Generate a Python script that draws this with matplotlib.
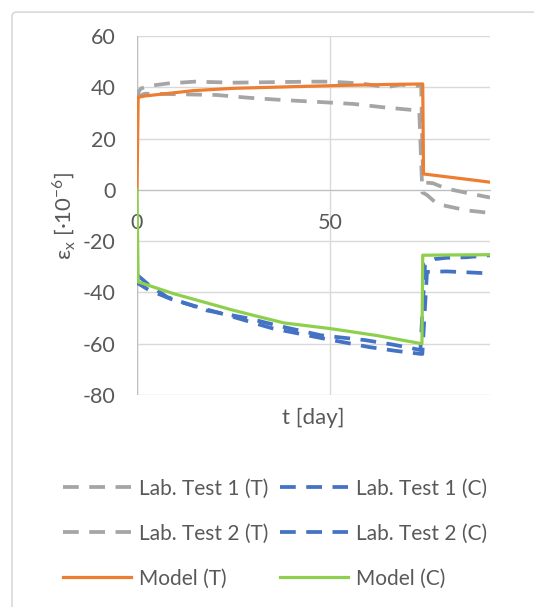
import numpy as np
import matplotlib.pyplot as plt
from matplotlib.patches import FancyBboxPatch

plt.rcParams['font.family'] = ['Lato', 'DejaVu Sans']
plt.rcParams['mathtext.fontset'] = 'custom'
plt.rcParams['mathtext.rm'] = 'Lato'
plt.rcParams['axes.unicode_minus'] = False

# lab tests, tension side
t_lab1_T = [0, 0.3, 1, 3, 8, 15, 25, 35, 45, 50, 58, 64.5, 68, 73.5, 74.0, 76.5, 80, 86, 91.3]
e_lab1_T = [35, 38, 39.5, 40.5, 41.5, 42.2, 41.8, 42, 42.2, 42.2, 41.5, 40, 41, 40.5, 2.9, 2.6, 0.5, -1.4, -3]
t_lab2_T = [0, 0.3, 2, 10, 20.6, 29, 38, 48, 56, 63.7, 73, 73.8, 75, 77.5, 80, 85.3, 91.3]
e_lab2_T = [35, 36.5, 37.5, 37.3, 37, 35.9, 35, 34.2, 33.5, 32.2, 30.9, -1, -2, -5.3, -6.3, -8, -9]

# lab tests, compression side
t_lab1_C = [0, 0.3, 3, 7.8, 18, 29, 38, 47.5, 59, 66, 72.5, 73.3, 74.5, 77, 80, 85, 91.3]
e_lab1_C = [-33, -33.5, -37, -41.8, -47, -50.2, -53.5, -56.7, -58.6, -60.3, -62.2, -62.5, -29, -27, -26.5, -26.3, -25.5]
t_lab2_C = [0, 0.3, 3, 9.5, 25, 35, 48, 60, 67, 73, 73.8, 75, 80, 86, 91.3]
e_lab2_C = [-35, -36.5, -39, -43, -49.6, -54, -57.9, -61.3, -62.8, -63.9, -64, -32, -31.8, -32.2, -32.6]

# model
t_model_T = [0, 0.3, 2, 8, 14.6, 25, 42, 55, 65, 73.9, 74.1, 80, 86, 91.3]
e_model_T = [0, 36.1, 36.6, 37.6, 38.7, 39.6, 40.3, 40.8, 41.1, 41.3, 6.2, 5.1, 4, 3.0]
t_model_C = [0, 0.3, 9.5, 25, 38, 50, 62, 73.7, 73.9, 80, 91.3]
e_model_C = [0, -35.9, -40.5, -47, -51.9, -54.1, -56.8, -60, -25.5, -25.4, -25.3]

gray = '#A5A5A5'
blue = '#4472C4'
orange = '#ED7D31'
green = '#8FCF4E'
txt = '#595959'

fig = plt.figure(figsize=(5.34, 6.07), dpi=100)
frame = FancyBboxPatch((12 / 534, -0.05), 1.0, 1.04 - 6 / 607,
                       boxstyle='round,pad=0,rounding_size=0.008',
                       transform=fig.transFigure, fill=False,
                       edgecolor='#D9D9D9', lw=1.2)
fig.patches.append(frame)

ax = fig.add_axes([137 / 534, 1 - 395 / 607, (490 - 137) / 534, (395 - 36) / 607])

dash = (4.2, 2.8)
lw_d = 2.7
l1, = ax.plot(t_lab1_T, e_lab1_T, color=gray, lw=lw_d, dashes=dash, label='Lab. Test 1 (T)')
l2, = ax.plot(t_lab2_T, e_lab2_T, color=gray, lw=lw_d, dashes=dash, label='Lab. Test 2 (T)')
l3, = ax.plot(t_lab1_C, e_lab1_C, color=blue, lw=lw_d, dashes=dash, label='Lab. Test 1 (C)')
l4, = ax.plot(t_lab2_C, e_lab2_C, color=blue, lw=lw_d, dashes=dash, label='Lab. Test 2 (C)')
l5, = ax.plot(t_model_T, e_model_T, color=orange, lw=2.3, label='Model (T)')
l6, = ax.plot(t_model_C, e_model_C, color=green, lw=2.3, label='Model (C)')

ax.set_xlim(0, 91.3)
ax.set_ylim(-80, 60)
ax.set_yticks(np.arange(-80, 61, 20))
ax.set_xticks([0, 50])
for s in ['top', 'right', 'left']:
    ax.spines[s].set_visible(False)
ax.spines['bottom'].set_position(('data', 0))
ax.spines['bottom'].set_color('#BFBFBF')
ax.spines['bottom'].set_zorder(1)
ax.axvline(0, color='#BFBFBF', lw=1, zorder=1)
ax.grid(True, color='#D9D9D9', lw=1)
ax.set_axisbelow(True)
ax.tick_params(length=0, labelsize=15.5, colors=txt)
ax.tick_params(axis='y', pad=15.5)
ax.tick_params(axis='x', pad=17)

ax.set_xlabel('t [day]', fontsize=16, color=txt, labelpad=0)
ax.xaxis.set_label_coords(0.5, -0.035)
ax.set_ylabel(r'ε$_\mathregular{x}$ [·10$^\mathregular{-6}$]', fontsize=16, color=txt)
ax.yaxis.set_label_coords(-0.166, 0.5)

leg = fig.legend(handles=[l1, l2, l5, l3, l4, l6], ncol=2, loc='upper left',
                 bbox_to_anchor=(44 / 534, 1 - 460 / 607), frameon=False,
                 fontsize=15, handlelength=3.27, handletextpad=0.38,
                 columnspacing=0.58, labelspacing=1.2)
for t in leg.get_texts():
    t.set_color(txt)

fig.savefig('out.png', dpi=100)
